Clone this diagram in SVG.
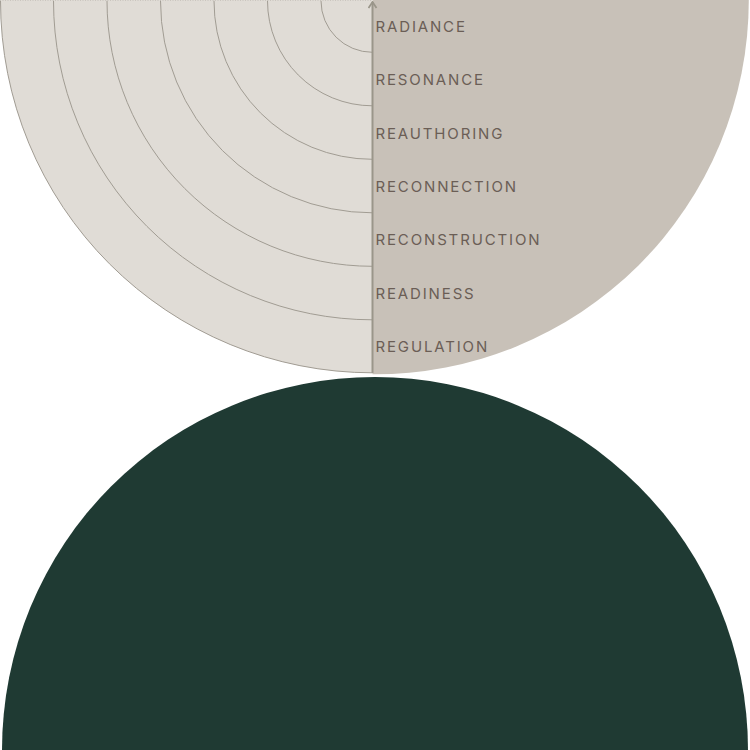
<svg xmlns="http://www.w3.org/2000/svg" width="750" height="750" viewBox="0 0 750 750">
  <style>
    .ring { fill: none; stroke: #a19c93; stroke-width: 1; }
    .lbl { font-family: Inter, "Noto Sans", "DejaVu Sans", sans-serif; font-size: 15px; letter-spacing: 1.85px; fill: #6b5e56; }
    .axis { stroke: #9a968a; stroke-width: 2; fill: none; }
  </style>
  <defs>
    <marker id="arrow" viewBox="0 0 10 10" refX="9" refY="5" markerWidth="10" markerHeight="10" markerUnits="userSpaceOnUse" orient="auto">
      <path d="M3,1 L9,5 L3,9" fill="none" stroke="#9a968a" stroke-width="1.8"/>
    </marker>
  </defs>
  <rect width="750" height="750" fill="#ffffff"/>

  <g id="right-half">
    <path d="M372.5,0 L748.8,0 A374.3,374.3 0 0 1 372.5,374.3 Z" fill="#c8c1b8"/>
  </g>

  <g id="left-half">
    <path d="M372.5,0 L0.5,0 A372,372 0 0 0 372.5,372.8 Z" fill="#e0dcd6"/>
    <line x1="0" y1="0.5" x2="372" y2="0.5" stroke="#b9b4ab" stroke-width="0.8" stroke-dasharray="1 1.5" opacity="0.7"/>
  </g>

  <g id="rings">
    <path id="ring-radiance" class="ring" d="M321,0.8 A51.5,51.5 0 0 0 372.5,52.3"/>
    <path id="ring-resonance" class="ring" d="M267.5,0.8 A105,105 0 0 0 372.5,105.8"/>
    <path id="ring-reauthoring" class="ring" d="M214,0.8 A158.5,158.5 0 0 0 372.5,159.3"/>
    <path id="ring-reconnection" class="ring" d="M160.5,0.8 A212,212 0 0 0 372.5,212.8"/>
    <path id="ring-reconstruction" class="ring" d="M107,0.8 A265.5,265.5 0 0 0 372.5,266.3"/>
    <path id="ring-readiness" class="ring" d="M53.5,0.8 A319,319 0 0 0 372.5,319.8"/>
    <path id="ring-regulation" class="ring" d="M0.5,0.8 A372,372 0 0 0 372.5,372.8"/>
  </g>

  <g id="connectors">
    <line class="axis" x1="372.5" y1="373" x2="372.5" y2="2" marker-end="url(#arrow)"/>
  </g>

  <g id="labels">
    <text class="lbl" x="375.5" y="32">RADIANCE</text>
    <text class="lbl" x="375.5" y="85.3">RESONANCE</text>
    <text class="lbl" x="375.5" y="138.6">REAUTHORING</text>
    <text class="lbl" x="375.5" y="191.9">RECONNECTION</text>
    <text class="lbl" x="375.5" y="245.2">RECONSTRUCTION</text>
    <text class="lbl" x="375.5" y="298.5">READINESS</text>
    <text class="lbl" x="375.5" y="351.8">REGULATION</text>
  </g>

  <g id="base">
    <path d="M2,750 A373,373 0 0 1 748,750 Z" fill="#1f3a33"/>
  </g>
</svg>
